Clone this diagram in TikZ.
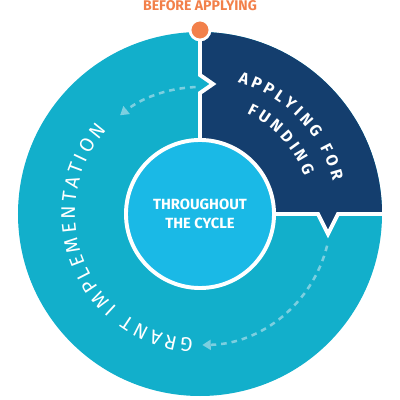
\documentclass[tikz,border=0pt]{standalone}
\usepackage{fontspec}
\setmainfont{Fira Sans}
\usetikzlibrary{arrows.meta,positioning,decorations.text}
\definecolor{cycteal}{HTML}{12AFCB}
\definecolor{cycnavy}{HTML}{143E6E}
\definecolor{cycsky}{HTML}{1AB9E6}
\definecolor{cycorange}{HTML}{F2804A}
\definecolor{cycdash}{HTML}{7CCFE0}
\newcommand{\ringfont}{\fontsize{14}{16}\selectfont}
\newcommand{\stagefont}{\bfseries\fontsize{11.5}{14}\selectfont}

\begin{document}
\begin{tikzpicture}[x=0.025cm, y=0.025cm,
    gap/.style={draw=white, line width=2.8pt, line join=miter},
    hub/.style={circle, fill=cycsky, draw=white, line width=2.8pt, minimum size=3.7cm,
                 align=center, text=white, font=\bfseries\fontsize{10.5}{14}\selectfont},
    flow/.style={cycdash, line width=1.8pt, dash pattern=on 4pt off 3.5pt,
                 -{Triangle[length=6pt, width=7pt]}},
    ringtext/.style={decorate, decoration={text along path, text color=white, text align={fit to path}}}
]
    \useasboundingbox (-200,-186) rectangle (200,214);
    \coordinate (c) at (0,0);
    % outer ring and the applying quadrant
    \fill[cycteal] (c) circle[radius=182];
    \fill[cycnavy] (c) -- (0,121) -- (13,130) -- (0,139) -- (0,182)
        arc[start angle=90, end angle=0, radius=182] -- (138,0) -- (128,-20) -- (118,0) -- cycle;
    \draw[gap] (0,184) -- (0,139) -- (13,130) -- (0,121) -- (c) -- (118,0) -- (128,-20) -- (138,0) -- (184,0);
    % labels along the ring
    \path[ringtext, decoration={text={|\ringfont|GRANT IMPLEMENTATION}}]
        (-93:125) arc[start angle=-93, end angle=-222, radius=125];
    \path[ringtext, decoration={text={|\stagefont|APPLYING FOR}}]
        (74:137) arc[start angle=74, end angle=14, radius=137];
    \path[ringtext, decoration={text={|\stagefont|FUNDING}}]
        (65:111) arc[start angle=65, end angle=20, radius=111];
    % flow arrows
    \draw[flow] (92:127) arc[start angle=92, end angle=129, radius=127];
    \draw[flow] (-14:131) arc[start angle=-14, end angle=-89, radius=131];
    % centre and start marker
    \node[hub] (cycle) at (c) {THROUGHOUT\\THE CYCLE};
    \node[circle, fill=cycorange, draw=white, line width=2pt, inner sep=0pt, minimum size=0.5cm] (start) at (0,184) {};
    \node[text=cycorange, font=\bfseries\fontsize{10}{10}\selectfont] (before) at (0,208) {BEFORE APPLYING};
\end{tikzpicture}
\end{document}
